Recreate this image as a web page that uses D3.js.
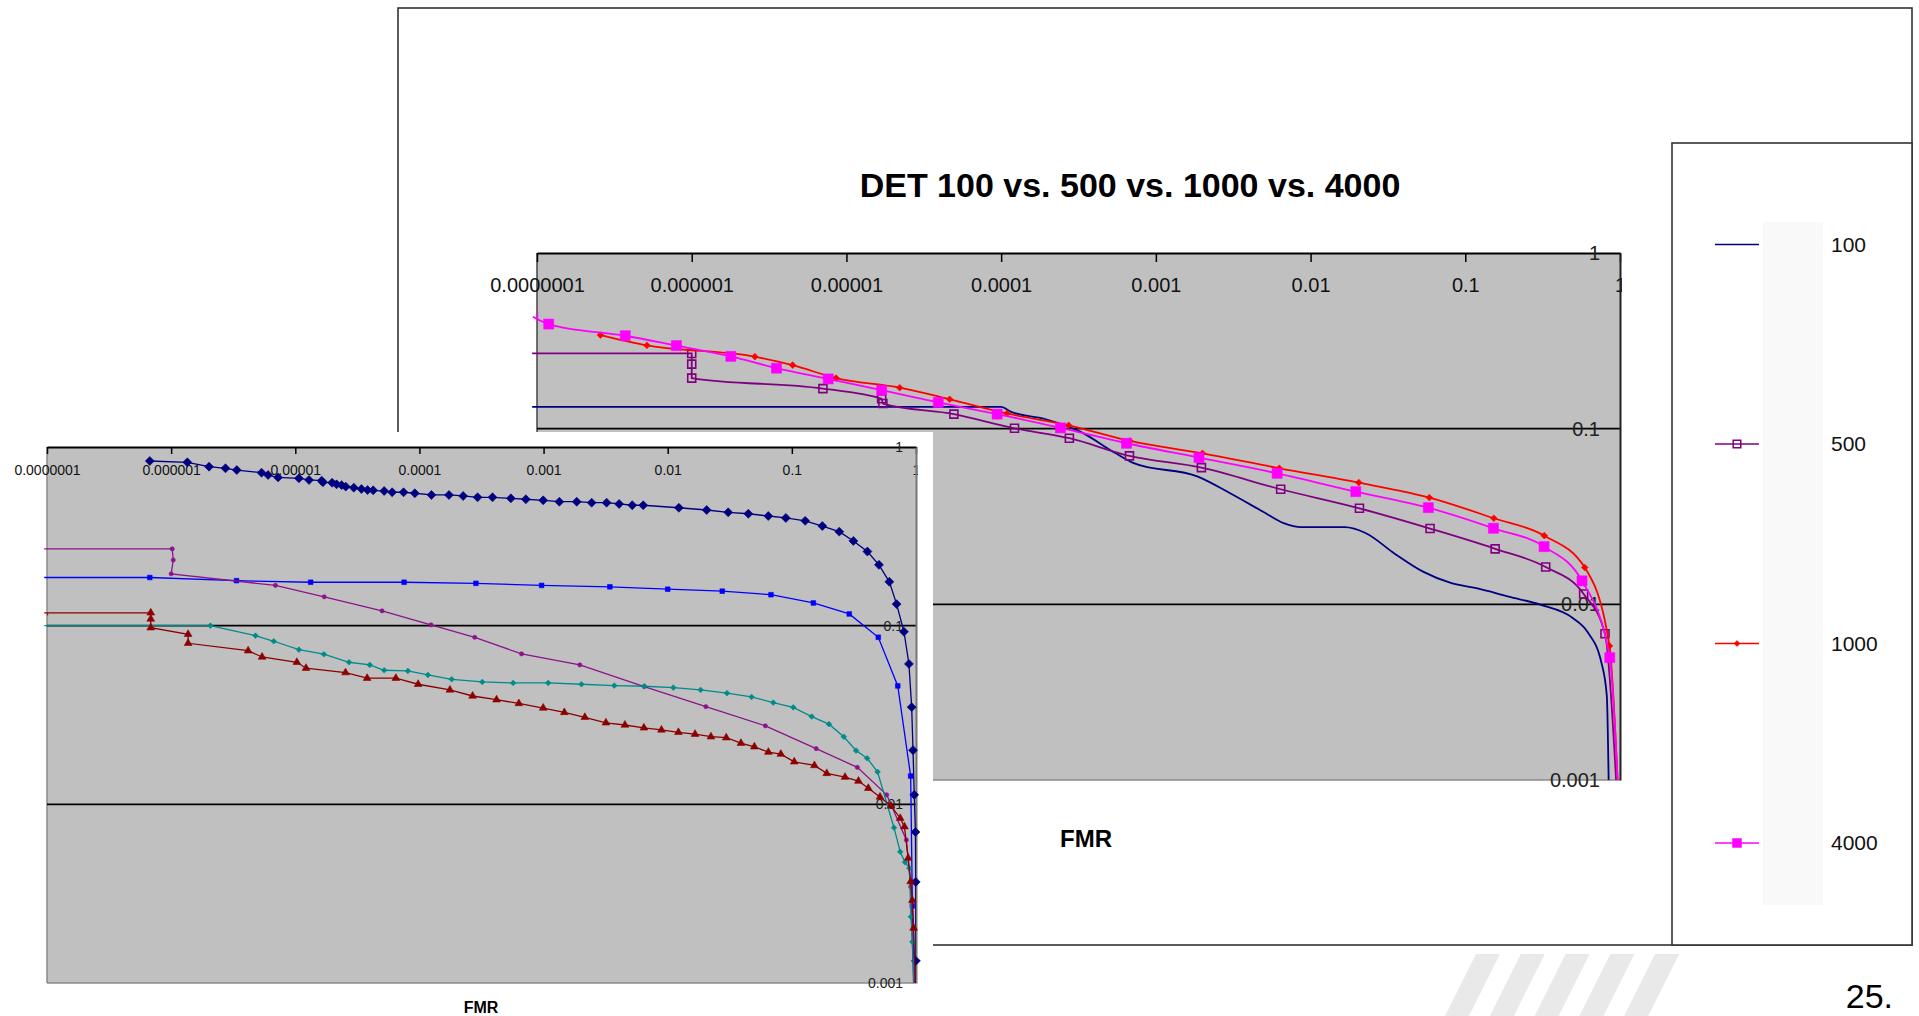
<!DOCTYPE html>
<html>
<head>
<meta charset="utf-8">
<script src="https://cdn.jsdelivr.net/npm/d3@7"></script>
<style>
body{margin:0;background:#fff;}
svg{display:block;font-family:"Liberation Sans",Arial,sans-serif;}
</style>
</head>
<body>
<div id="chart"></div>
<script>
// ---- data (FMR, FNMR) ----
const xTickValues = [1e-7, 1e-6, 1e-5, 1e-4, 1e-3, 1e-2, 1e-1, 1];
const xTickLabels = ['0.0000001', '0.000001', '0.00001', '0.0001', '0.001', '0.01', '0.1', '1'];
const yTickValues = [1, 0.1, 0.01, 0.001];
const yTickLabels = ['1', '0.1', '0.01', '0.001'];
const gridValues = [0.1, 0.01];

const backTitle = 'DET 100 vs. 500 vs. 1000 vs. 4000';
const backNames = ['100', '500', '1000', '4000'];

const det100 = [[9.3e-8,0.133],[1.0e-4,0.133],[1.15e-4,0.125],[1.92e-4,0.1135],[3.24e-4,0.0962],[5.51e-4,0.0724],
  [7.2e-4,0.0636],[1.87e-3,0.0533],[3.02e-3,0.0429],[5.13e-3,0.033],[6.7e-3,0.029],[8.73e-3,0.0275],[0.0166,0.0275],
  [0.0228,0.0254],[0.0348,0.0195],[0.0533,0.01535],[0.0815,0.0132],[0.118,0.01235],[0.191,0.01106],[0.308,0.00993],
  [0.497,0.00834],[0.614,0.0070],[0.760,0.00462],[0.822,0.003],[0.846,0.0009]];
const det500 = [[9.3e-8,0.268],[1.0e-6,0.268],[1.0e-6,0.233],[1.0e-6,0.194],[7.05e-6,0.169],[1.69e-5,0.148],[1.72e-5,0.139],
  [4.95e-5,0.121],[1.22e-4,0.1005],[2.76e-4,0.0882],[6.75e-4,0.0700],[1.97e-3,0.060],[6.41e-3,0.0452],[0.0207,0.0352],
  [0.0592,0.0270],[0.156,0.0207],[0.331,0.0163],[0.582,0.01146],[0.80,0.0068],[0.95,0.0009]];
const det1000 = [[2.57e-7,0.341],[5.13e-7,0.298],[2.56e-6,0.257],[4.49e-6,0.230],[8.57e-6,0.194],[2.21e-5,0.171],
  [4.65e-5,0.147],[1.09e-4,0.122],[2.73e-4,0.1045],[6.81e-4,0.0851],[2.00e-3,0.0724],[6.28e-3,0.0595],[0.0205,0.0493],
  [0.0586,0.0405],[0.153,0.0309],[0.324,0.0246],[0.592,0.0162],[0.855,0.0058],[0.97,0.0009]];
const det4000 = [[9.4e-8,0.434],[1.19e-7,0.394],[3.72e-7,0.338],[7.96e-7,0.297],[1.79e-6,0.258],[3.53e-6,0.221],
  [7.62e-6,0.192],[1.69e-5,0.1655],[3.92e-5,0.141],[9.42e-5,0.121],[2.42e-4,0.101],[6.46e-4,0.0826],[1.90e-3,0.0684],
  [6.08e-3,0.0557],[0.0196,0.0438],[0.0577,0.0355],[0.152,0.0271],[0.323,0.0213],[0.568,0.0136],[0.859,0.00497],[0.97,0.0009]];

// front (older) chart
const curveNavy = [[6.73e-7,0.835],[1.35e-6,0.821],[2.02e-6,0.776],[2.74e-6,0.760],[3.38e-6,0.743],[5.35e-6,0.718],
  [6.04e-6,0.697],[7.27e-6,0.676],[1.07e-5,0.668],[1.29e-5,0.654],[1.63e-5,0.648],[1.67e-5,0.635],[1.98e-5,0.631],
  [2.15e-5,0.618],[2.36e-5,0.612],[2.55e-5,0.600],[2.96e-5,0.592],[3.41e-5,0.582],[3.82e-5,0.574],[4.24e-5,0.572],
  [5.2e-5,0.567],[6.03e-5,0.558],[7.45e-5,0.558],[9.18e-5,0.551],[1.25e-4,0.539],[1.73e-4,0.539],[2.25e-4,0.532],
  [2.94e-4,0.523],[3.88e-4,0.523],[5.45e-4,0.516],[7.2e-4,0.510],[9.93e-4,0.503],[1.34e-3,0.494],[1.85e-3,0.494],
  [2.44e-3,0.488],[3.22e-3,0.488],[4.06e-3,0.480],[5.18e-3,0.472],[6.35e-3,0.472],[0.0123,0.457],[0.0206,0.444],
  [0.0307,0.431],[0.0446,0.423],[0.0646,0.411],[0.0895,0.401],[0.128,0.386],[0.176,0.361],[0.241,0.336],[0.313,0.298],
  [0.406,0.260],[0.503,0.219],[0.610,0.176],[0.698,0.132],[0.80,0.0925],[0.877,0.0611],[0.923,0.035],[0.946,0.0201],
  [0.968,0.0113],[0.99,0.0070],[0.995,0.00368],[0.998,0.00133],[0.999,0.0009]];
const curveBlue = [[9.5e-8,0.186],[6.73e-7,0.186],[3.36e-6,0.1786],[1.33e-5,0.175],[7.53e-5,0.175],[2.85e-4,0.1726],
  [9.64e-4,0.168],[3.42e-3,0.165],[0.01,0.160],[0.0275,0.156],[0.0679,0.149],[0.149,0.134],[0.290,0.1163],[0.497,0.0861],
  [0.713,0.046],[0.906,0.0144],[0.935,0.0027],[0.97,0.0009]];
const curvePurple = [[9.5e-8,0.269],[1.02e-6,0.269],[1.04e-6,0.233],[1.0e-6,0.195],[6.92e-6,0.168],[1.71e-5,0.145],
  [5.0e-5,0.121],[1.24e-4,0.101],[2.79e-4,0.0861],[6.65e-4,0.0695],[1.96e-3,0.0603],[6.47e-3,0.0456],[0.0203,0.0352],
  [0.0612,0.0275],[0.157,0.0205],[0.337,0.0161],[0.581,0.0113],[0.836,0.00632],[0.906,0.00346],[0.96,0.0009]];
const curveTeal = [[9.5e-8,0.1],[2.07e-6,0.1],[4.78e-6,0.0879],[6.71e-6,0.0818],[1.07e-5,0.0734],[1.70e-5,0.0692],
  [2.71e-5,0.0624],[3.98e-5,0.0603],[5.2e-5,0.0563],[8.07e-5,0.0558],[1.17e-4,0.053],[1.82e-4,0.0501],[3.21e-4,0.0484],
  [5.69e-4,0.0478],[1.09e-3,0.0478],[2.02e-3,0.0470],[3.71e-3,0.0462],[6.47e-3,0.0458],[0.0111,0.045],[0.0184,0.0437],
  [0.030,0.0419],[0.0474,0.0399],[0.0708,0.0371],[0.1026,0.0349],[0.1445,0.031],[0.199,0.0281],[0.262,0.0239],
  [0.329,0.020],[0.404,0.0181],[0.490,0.0152],[0.665,0.0074],[0.746,0.00543],[0.815,0.00474],[0.885,0.00439],
  [0.91,0.00235],[0.935,0.0017],[0.97,0.0009]];
const curveDarkRed = [[9.5e-8,0.118],[6.85e-7,0.118],[6.85e-7,0.109],[6.85e-7,0.0974],[1.37e-6,0.0895],[1.37e-6,0.0797],
  [4.17e-6,0.0724],[5.4e-6,0.0668],[1.03e-5,0.0624],[1.22e-5,0.0578],[2.54e-5,0.0546],[3.79e-5,0.0508],[6.46e-5,0.0508],
  [9.77e-5,0.047],[1.76e-4,0.0437],[2.68e-4,0.0404],[4.18e-4,0.0385],[6.32e-4,0.0367],[9.93e-4,0.0346],[1.47e-3,0.0327],
  [2.15e-3,0.0307],[3.18e-3,0.0286],[4.52e-3,0.0278],[6.43e-3,0.0268],[8.9e-3,0.0261],[0.0122,0.0253],[0.0166,0.0247],
  [0.0223,0.0239],[0.0296,0.0236],[0.0389,0.022],[0.0499,0.021],[0.0647,0.0196],[0.0815,0.0191],[0.1045,0.0173],
  [0.152,0.0165],[0.191,0.0149],[0.268,0.0142],[0.344,0.0135],[0.413,0.0123],[0.513,0.011],[0.630,0.0098],
  [0.746,0.00836],[0.807,0.0075],[0.865,0.005],[0.906,0.0037],[0.935,0.0029],[0.957,0.00203],[0.99,0.0009]];

const slideNumber = '25.';

// ---- sizes ----
const W = 1919, H = 1016;
const back = {x0: 537, x1: 1620, y0: 253, y1: 780};
const front = {x0: 47, x1: 916, y0: 447, y1: 983};

const svg = d3.select('#chart').append('svg').attr('width', W).attr('height', H);
const defs = svg.append('defs');

function clip(id, x, y, w, h) {
  defs.append('clipPath').attr('id', id).append('rect').attr('x', x).attr('y', y).attr('width', w).attr('height', h);
  return 'url(#' + id + ')';
}

// stripes watermark bottom right
const stripeIdx = d3.range(5);
svg.selectAll('polygon.stripe').data(stripeIdx).enter().append('polygon')
  .attr('points', i => {
    const tx = 1476 + i * 44.8;
    return [[tx, 954], [tx + 24, 954], [tx - 7, 1016], [tx - 31, 1016]].join(' ');
  })
  .attr('fill', '#e9e9e9');

svg.append('text').text(slideNumber)
  .attr('x', 1893).attr('y', 1008).attr('text-anchor', 'end')
  .attr('font-size', 34).attr('fill', '#000');

// ---- back chart frame ----
svg.append('rect').attr('x', 398).attr('y', 8).attr('width', 1514).attr('height', 937)
  .attr('fill', '#fff').attr('stroke', '#333').attr('stroke-width', 1.6);
svg.append('rect').attr('x', 1672).attr('y', 143).attr('width', 240).attr('height', 802)
  .attr('fill', '#fff').attr('stroke', '#333').attr('stroke-width', 1.6);

svg.append('text').text(backTitle)
  .attr('x', 1130).attr('y', 197).attr('text-anchor', 'middle')
  .attr('font-size', 34).attr('font-weight', 'bold').attr('fill', '#000');

function drawPlot(p, opt) {
  const g = svg.append('g');
  const x = d3.scaleLog().domain([1e-7, 1]).range([p.x0, p.x1]);
  const y = d3.scaleLog().domain([1, 0.001]).range([p.y0, p.y1]);

  g.append('rect').attr('x', p.x0).attr('y', p.y0).attr('width', p.x1 - p.x0).attr('height', p.y1 - p.y0)
    .attr('fill', '#c0c0c0');

  // borders
  g.append('line').attr('x1', p.x0).attr('x2', p.x0).attr('y1', p.y0).attr('y2', p.y1).attr('stroke', opt.leftColor).attr('stroke-width', 1.5);
  g.append('line').attr('x1', p.x0).attr('x2', p.x1).attr('y1', p.y1).attr('y2', p.y1).attr('stroke', '#8a8a8a').attr('stroke-width', 1.5);

  // gridlines
  g.selectAll('line.grid').data(gridValues).enter().append('line')
    .attr('x1', p.x0).attr('x2', p.x1)
    .attr('y1', d => y(d)).attr('y2', d => y(d))
    .attr('stroke', '#000').attr('stroke-width', 1.6);

  // x axis on top, ticks and labels inside plot
  const xAxis = d3.axisBottom(x).tickValues(xTickValues)
    .tickFormat((d, i) => xTickLabels[i])
    .tickSizeInner(opt.tickLen).tickSizeOuter(0).tickPadding(opt.xPad);
  const xa = g.append('g').attr('transform', 'translate(0,' + p.y0 + ')').call(xAxis)
    .attr('clip-path', clip(opt.id + 'xclip', p.x0 - 80, -5, p.x1 - p.x0 + 82, 60));
  xa.select('.domain').attr('stroke', '#000').attr('stroke-width', 2);
  xa.selectAll('.tick line').attr('stroke', '#000').attr('stroke-width', 1.5);
  xa.selectAll('.tick text').attr('font-size', opt.fontSize).attr('fill', '#111')
    .attr('font-family', '"Liberation Sans",Arial,sans-serif');

  // y axis labels on right inside plot
  const yAxis = d3.axisLeft(y).tickValues(yTickValues)
    .tickFormat((d, i) => yTickLabels[i])
    .tickSizeInner(0).tickSizeOuter(0).tickPadding(opt.yPad);
  const ya = g.append('g').attr('transform', 'translate(' + p.x1 + ',0)').call(yAxis);
  ya.select('.domain').attr('stroke', opt.rightColor).attr('stroke-width', 2);
  ya.selectAll('.tick text').attr('font-size', opt.fontSize).attr('fill', '#222')
    .attr('font-family', '"Liberation Sans",Arial,sans-serif');

  const lineClip = clip(opt.id + 'lclip', p.x0 - 6, p.y0, p.x1 - p.x0 + 6, p.y1 - p.y0);
  const markClip = clip(opt.id + 'mclip', p.x0, p.y0 - 6, p.x1 - p.x0 + 6, p.y1 - p.y0 + 6);

  const line = d3.line().x(d => x(d[0])).y(d => y(d[1])).curve(opt.curve);

  opt.series.forEach(s => {
    g.append('path').datum(s.values)
      .attr('d', line)
      .attr('fill', 'none').attr('stroke', s.color).attr('stroke-width', opt.lineWidth)
      .attr('clip-path', lineClip);
    if (!s.symbol) return;
    g.append('g').attr('clip-path', markClip)
      .selectAll('path').data(s.values).enter().append('path')
      .attr('d', d3.symbol().type(s.symbol).size(s.size))
      .attr('transform', d => 'translate(' + x(d[0]) + ',' + y(d[1]) + ')' + (s.rotate ? ' rotate(45)' : ''))
      .attr('fill', s.open ? 'none' : s.color)
      .attr('stroke', s.color).attr('stroke-width', s.open ? 1.6 : 0.6);
  });
  return g;
}

const backSeries = [
  {values: det100, color: '#000080'},
  {values: det500, color: '#800080', symbol: d3.symbolSquare, size: 64, open: true},
  {values: det1000, color: '#ff0000', symbol: d3.symbolSquare, size: 22, rotate: true},
  {values: det4000, color: '#ff00ff', symbol: d3.symbolSquare, size: 100}
];

drawPlot(back, {
  id: 'back', tickLen: 9, xPad: 16, yPad: 20, fontSize: 20, lineWidth: 1.8,
  leftColor: '#444', rightColor: '#222',
  curve: d3.curveMonotoneX, series: backSeries
});

svg.append('text').text('FMR')
  .attr('x', 1086).attr('y', 847).attr('text-anchor', 'middle')
  .attr('font-size', 24).attr('font-weight', 'bold').attr('fill', '#000');

// ---- legend ----
svg.append('rect').attr('x', 1763).attr('y', 222).attr('width', 60).attr('height', 683).attr('fill', '#f9f9f9');
const legend = svg.selectAll('g.legend').data(backSeries).enter().append('g')
  .attr('transform', (d, i) => 'translate(0,' + (244.5 + i * 199.5) + ')');
legend.append('line').attr('x1', 1715).attr('x2', 1759).attr('y1', 0).attr('y2', 0)
  .attr('stroke', d => d.color).attr('stroke-width', 1.6);
legend.filter(d => d.symbol).append('path')
  .attr('d', d => d3.symbol().type(d.symbol).size(d.open ? d.size * 0.9 : d.size * 0.8)())
  .attr('transform', d => 'translate(1737,0)' + (d.rotate ? ' rotate(45)' : ''))
  .attr('fill', d => d.open ? 'none' : d.color)
  .attr('stroke', d => d.color).attr('stroke-width', d => d.open ? 1.5 : 0.5);
legend.append('text').text((d, i) => backNames[i])
  .attr('x', 1831).attr('y', 0).attr('dy', '0.35em')
  .attr('font-size', 21).attr('fill', '#111');

// ---- front (overlaid) chart ----
svg.append('rect').attr('x', 0).attr('y', 432).attr('width', 933).attr('height', H - 432).attr('fill', '#fff');

const frontSeries = [
  {values: curveNavy, color: '#000080', symbol: d3.symbolSquare, size: 40, rotate: true},
  {values: curveBlue, color: '#0000ff', symbol: d3.symbolSquare, size: 22},
  {values: curvePurple, color: '#8b138b', symbol: d3.symbolCircle, size: 14},
  {values: curveTeal, color: '#008b8b', symbol: d3.symbolSquare, size: 16, rotate: true},
  {values: curveDarkRed, color: '#8b0000', symbol: d3.symbolTriangle, size: 26}
];

drawPlot(front, {
  id: 'front', tickLen: 7, xPad: 11, yPad: 13, fontSize: 14, lineWidth: 1.3,
  leftColor: '#8a8a8a', rightColor: '#777',
  curve: d3.curveLinear, series: frontSeries
});

svg.append('text').text('FMR')
  .attr('x', 481).attr('y', 1013).attr('text-anchor', 'middle')
  .attr('font-size', 16).attr('font-weight', 'bold').attr('fill', '#000');
</script>
</body>
</html>
